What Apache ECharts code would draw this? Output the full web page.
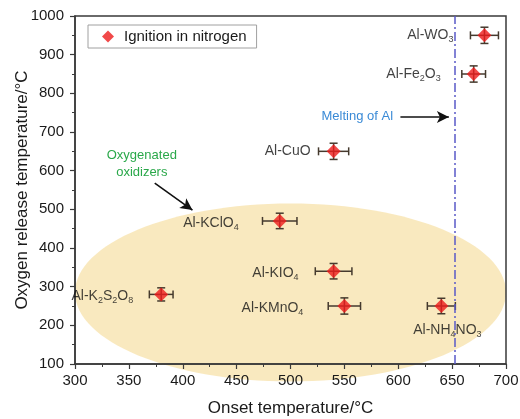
<!DOCTYPE html>
<html><head><meta charset="utf-8">
<script src="https://cdn.jsdelivr.net/npm/echarts@6/dist/echarts.min.js"></script>
<style>html,body{margin:0;padding:0;background:#fff}#c{width:520px;height:419px}</style>
</head><body><div id="c"></div>
<script>
// ---- data ----
const names = ['Al-WO{s|3}','Al-Fe{s|2}O{s|3}','Al-CuO','Al-KClO{s|4}','Al-KIO{s|4}','Al-KMnO{s|4}','Al-NH{s|4}NO{s|3}','Al-K{s|2}S{s|2}O{s|8}'];
const onsetT = [680, 670, 540, 490, 540, 550, 640, 380];
const oxygenT = [950, 850, 650, 470, 340, 250, 250, 280];
const onsetErr = [13, 11, 14, 16, 17, 15, 13, 11];
const oxygenErr = [21, 21, 21, 20, 20, 21, 20, 17];
const xTicks = [300, 350, 400, 450, 500, 550, 600, 650, 700];
const yTicks = [100, 200, 300, 400, 500, 600, 700, 800, 900, 1000];
const meltingAl = 652;
const legendName = 'Ignition in nitrogen';

// ---- layout (styles/positions) ----
const FONT = 'Liberation Sans, Arial, sans-serif';
const labelLayout = [
  {position:'left', distance:24, offset:[0,0]},
  {position:'left', distance:26, offset:[0,0]},
  {position:'left', distance:16, offset:[0,0]},
  {position:'left', distance:34, offset:[0,2]},
  {position:'left', distance:28, offset:[0,2]},
  {position:'left', distance:34, offset:[0,2]},
  {position:'bottom', distance:8, offset:[6,0]},
  {position:'left', distance:21, offset:[0,2]}
];

const points = onsetT.map((x,i)=>({
  value:[x, oxygenT[i]],
  label:Object.assign({show:true, formatter:names[i]}, labelLayout[i])
}));
const errData = onsetT.map((x,i)=>[x, oxygenT[i], onsetErr[i], oxygenErr[i]]);

const chart = echarts.init(document.getElementById('c'), null, {renderer:'canvas'});
const axisCol = '#3a3a3a';
const option = {
  animation:false,
  textStyle:{fontFamily:FONT},
  grid:{left:75, right:14, top:16, bottom:55, containLabel:false, outerBoundsMode:'none',
        show:true, borderColor:axisCol, borderWidth:1.5, backgroundColor:'transparent'},
  legend:{
    data:[{name:legendName, icon:'diamond'}],
    left:88, top:25, orient:'horizontal',
    itemWidth:12, itemHeight:12,
    padding:[4,10,4,14],
    borderColor:'#a0a0a0', borderWidth:1,
    textStyle:{fontSize:15, color:'#1a1a1a', fontFamily:FONT, padding:[0,0,0,5]}
  },
  xAxis:{
    type:'value', min:300, max:700, interval:50,
    name:'Onset temperature/°C', nameLocation:'middle', nameGap:36,
    nameTextStyle:{fontSize:17, color:'#1a1a1a', fontFamily:FONT},
    axisLine:{show:true, lineStyle:{color:axisCol, width:1.5}},
    axisTick:{show:true, inside:false, length:5, lineStyle:{color:axisCol, width:1.2}},
    minorTick:{show:true, splitNumber:2, length:3, lineStyle:{color:axisCol, width:1}},
    axisLabel:{fontSize:15, color:'#1a1a1a', margin:9, formatter:v=>xTicks.includes(v)?String(v):''},
    splitLine:{show:false}
  },
  yAxis:{
    type:'value', min:100, max:1000, interval:100,
    name:'Oxygen release temperature/°C', nameLocation:'middle', nameGap:44, nameRotate:90,
    nameMoveOverlap:false,
    nameTextStyle:{fontSize:17, color:'#1a1a1a', fontFamily:FONT},
    axisLine:{show:true, lineStyle:{color:axisCol, width:1.5}},
    axisTick:{show:true, inside:false, length:5, lineStyle:{color:axisCol, width:1.2}},
    minorTick:{show:true, splitNumber:2, length:3, lineStyle:{color:axisCol, width:1}},
    axisLabel:{fontSize:15, color:'#1a1a1a', margin:11, formatter:v=>yTicks.includes(v)?String(v):''},
    splitLine:{show:false}
  },
  series:[
    {
      type:'custom', name:'zone', z:-1, silent:true, clip:false,
      data:[[500, 285, 200, 230]],
      renderItem:(params, api)=>{
        const c = api.coord([api.value(0), api.value(1)]);
        const s = api.size([api.value(2), api.value(3)]);
        return {type:'ellipse', shape:{cx:c[0], cy:c[1], rx:s[0], ry:s[1]}, style:{fill:'#f8e7b8', opacity:0.9}};
      },
      tooltip:{show:false}
    },
    {
      type:'custom', name:'err', z:3, silent:true,
      data:errData,
      renderItem:(params, api)=>{
        const x=api.value(0), y=api.value(1), ex=api.value(2), ey=api.value(3);
        const l=api.coord([x-ex,y]), r=api.coord([x+ex,y]), t=api.coord([x,y+ey]), b=api.coord([x,y-ey]);
        const st={stroke:'#453a2e', lineWidth:1.5};
        const cap=4;
        return {type:'group', children:[
          {type:'line', shape:{x1:l[0],y1:l[1],x2:r[0],y2:r[1]}, style:st},
          {type:'line', shape:{x1:l[0],y1:l[1]-cap,x2:l[0],y2:l[1]+cap}, style:st},
          {type:'line', shape:{x1:r[0],y1:r[1]-cap,x2:r[0],y2:r[1]+cap}, style:st},
          {type:'line', shape:{x1:t[0],y1:t[1],x2:b[0],y2:b[1]}, style:st},
          {type:'line', shape:{x1:t[0]-cap,y1:t[1],x2:t[0]+cap,y2:t[1]}, style:st},
          {type:'line', shape:{x1:b[0]-cap,y1:b[1],x2:b[0]+cap,y2:b[1]}, style:st}
        ]};
      }
    },
    {
      type:'scatter', name:legendName, z:4,
      symbol:'diamond', symbolSize:14,
      itemStyle:{color:'#ee1c1c'},
      label:{
        color:'#111', fontSize:14, fontFamily:FONT,
        rich:{
          s:{fontSize:9, verticalAlign:'bottom', lineHeight:10, color:'#111', fontFamily:FONT}
        },
        lineHeight:18
      },
      data:points,
      markLine:{
        silent:true, animation:false,
        symbol:['none','none'],
        label:{show:false},
        lineStyle:{color:'#5a5ac8', width:1.5, type:[9,3,2,3]},
        data:[{xAxis:meltingAl}]
      }
    },
    {
      type:'line', name:'arrows', silent:true, data:[],
      markLine:{
        silent:true, animation:false,
        symbol:['none','arrow'], symbolSize:[9,12],
        label:{show:false},
        lineStyle:{color:'#111', width:1.6, type:'solid'},
        data:[
          [{coord:[602,739]},{coord:[647,739]}],
          [{coord:[374,568]},{coord:[409,498]}]
        ]
      }
    }
  ]
};
chart.setOption(option);

// text annotations anchored in data coordinates
const notes = [
  {at:[362,618], text:'Oxygenated\noxidizers', color:'#2aa84a'},
  {at:[562,739], text:'Melting of Al', color:'#3a8ad6'}
];
chart.setOption({graphic: notes.map(n=>{
  const p = chart.convertToPixel({gridIndex:0}, n.at);
  return {type:'text', x:p[0], y:p[1], z:10, silent:true,
    style:{text:n.text, fill:n.color, font:'13px '+FONT, align:'center', verticalAlign:'middle', lineHeight:17}};
})});
</script></body></html>
